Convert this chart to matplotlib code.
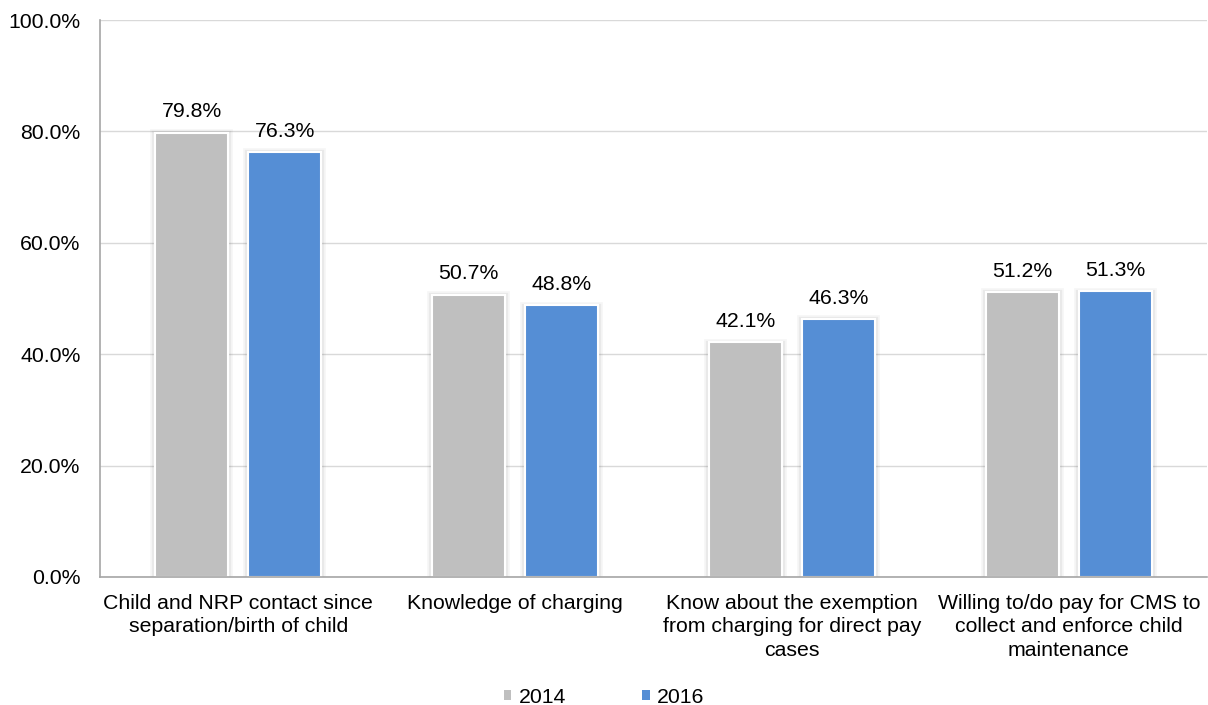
import numpy as np
import matplotlib.pyplot as plt
import matplotlib.patheffects as pe
from matplotlib.patches import Patch
from matplotlib.ticker import FuncFormatter

plt.rcParams['font.family'] = ['Liberation Sans', 'DejaVu Sans']

# Survey measures, 2014 vs 2016
categories = [
    "Child and NRP contact since\nseparation/birth of child",
    "Knowledge of charging",
    "Know about the exemption\nfrom charging for direct pay\ncases",
    "Willing to/do pay for CMS to\ncollect and enforce child\nmaintenance",
]
series_names = ["2014", "2016"]
values_2014 = [79.8, 50.7, 42.1, 51.2]
values_2016 = [76.3, 48.8, 46.3, 51.3]
colors = ["#BFBFBF", "#558ED5"]

fs = 15.3

fig = plt.figure(figsize=(12.08, 7.05), dpi=100)
ax = fig.add_axes([0.0828, 0.1816, 0.9165, 0.79])

x = np.arange(len(categories))
width = 0.264
offset = 0.168
# soft halo round each bar
glow = [
    pe.Stroke(linewidth=7, foreground="black", alpha=0.035, offset=(0, -1)),
    pe.Stroke(linewidth=4.5, foreground="black", alpha=0.05, offset=(0, -1)),
    pe.Normal(),
]

for vals, name, col, sgn in zip([values_2014, values_2016], series_names, colors, [-1, 1]):
    bars = ax.bar(x + sgn * offset, vals, width, color=col, edgecolor="white",
                  linewidth=1.5, zorder=3)
    for b in bars:
        b.set_path_effects(glow)
    for xi, v in zip(x + sgn * offset, vals):
        ax.annotate(f"{v:.1f}%", (xi, v), xytext=(0, 8), textcoords="offset points",
                    ha="center", va="bottom", fontsize=fs, color="#000000")

ax.set_xlim(-0.5, len(categories) - 0.5)
ax.set_ylim(0, 100)
ax.set_yticks(np.arange(0, 101, 20))
ax.yaxis.set_major_formatter(FuncFormatter(lambda v, p: f"{v:.1f}%"))
ax.set_xticks(x)
ax.set_xticklabels(categories, fontsize=fs, linespacing=1.3)
ax.tick_params(axis="y", labelsize=fs, length=0, pad=14)
ax.tick_params(axis="x", length=0, pad=12)

ax.grid(axis="y", color="#D9D9D9", linewidth=1, zorder=0)
for s in ["top", "right"]:
    ax.spines[s].set_visible(False)
for s in ["left", "bottom"]:
    ax.spines[s].set_color("#A6A6A6")
    ax.spines[s].set_linewidth(1.2)
    ax.spines[s].set_zorder(4)

handles = [Patch(facecolor=c, edgecolor="none", label=n) for c, n in zip(colors, series_names)]
fig.legend(handles=handles, loc="lower center", bbox_to_anchor=(0.5, -0.03), ncol=2,
           frameon=False, fontsize=fs, handlelength=0.35, handleheight=0.35,
           handletextpad=0.35, columnspacing=3.6)

plt.savefig("out.png", dpi=100)
plt.close()
